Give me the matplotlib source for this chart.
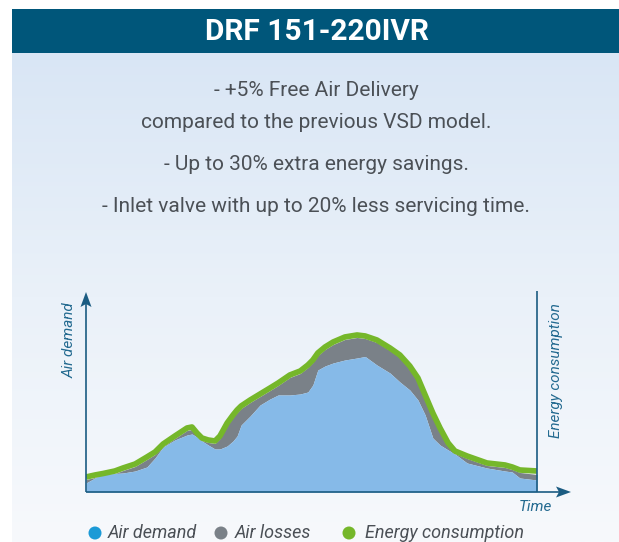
import numpy as np
import matplotlib
matplotlib.use("Agg")
import matplotlib.pyplot as plt
from matplotlib.colors import LinearSegmentedColormap
from matplotlib.patches import Polygon, Rectangle, Circle

# ---------------- data ----------------
title = "DRF 151-220IVR"
bullets = ["- +5% Free Air Delivery",
           "compared to the previous VSD model.",
           "- Up to 30% extra energy savings.",
           "- Inlet valve with up to 20% less servicing time."]
legend_labels = ["Air demand", "Air losses", "Energy consumption"]
y_label = "Air demand"
y2_label = "Energy consumption"
x_label = "Time"

time = [0, 2.0, 3.8, 6.4, 8.2, 10.9, 13.5, 15.3, 17.1, 19.7, 22.4, 23.5, 24.6, 25.7,
        27.1, 28.6, 29.7, 31.3, 32.6, 33.5, 34.4, 36.4, 38.6, 40.8, 42.6, 45.2, 47.5,
        49.2, 50.3, 51.4, 53.0, 54.8, 57.4, 60.1, 61.9, 64.5, 67.4, 69.6, 71.8, 73.6,
        75.2, 76.9, 78.5, 80.3, 81.8, 84.5, 88.9, 92.9, 94.5, 96.2, 100]
air_demand = [9, 14, 18, 18.5, 19, 21, 25, 34, 45, 52, 57, 58, 55, 51, 47, 43, 43, 46,
              51, 56, 67, 76, 87, 93, 97, 97, 98, 100, 107, 122, 126, 129, 132, 134,
              135.5, 127, 119, 110, 102, 92, 77, 54, 47, 42, 38, 29, 24, 21, 20, 14, 12]
air_losses = [12.5, 14.5, 18, 18.5, 21.5, 25.5, 32.5, 37.5, 45.5, 53.5, 61.5, 62.5, 56.5,
              51.5, 49.5, 48.5, 53.5, 66.5, 74.5, 79.5, 83.5, 89.5, 95.5, 101.5, 106.5,
              114.5, 118.5, 124.5, 129.5, 136.5, 142.5, 147.5, 152.5, 154.5, 153.5, 149.5,
              141.5, 134.5, 123.5, 111.5, 94.5, 76.5, 61.5, 46.5, 38.5, 33.5, 26.5, 24.5,
              22.5, 19.5, 17.5]
energy = [15, 17, 18.5, 21, 24, 28, 35, 40, 48, 56, 64, 65, 59, 54, 52, 51, 56, 69, 77,
          82, 86, 92, 98, 104, 109, 117, 121, 127, 132, 139, 145, 150, 155, 157, 156,
          152, 144, 137, 126, 114, 97, 79, 64, 49, 41, 36, 29, 27, 25, 22, 21]

# ---------------- style ----------------
W, H = 619, 542
DPI = 100
c_header = "#00567A"
c_axis = "#1B5C82"
c_label = "#236A90"
c_text = "#4B5056"
c_blue = "#86BAE8"
c_gray = "#7A8188"
c_green = "#75B72A"
c_dot_blue = "#1B9AD6"
FONT = ["Roboto", "DejaVu Sans"]

fig = plt.figure(figsize=(W / DPI, H / DPI), dpi=DPI)
fig.patch.set_facecolor("white")

# background axes in pixel coordinates
bg = fig.add_axes([0, 0, 1, 1], zorder=0)
bg.set_xlim(0, W)
bg.set_ylim(H, 0)
bg.axis("off")
grad = np.linspace(0, 1, 256).reshape(-1, 1)
cmap = LinearSegmentedColormap.from_list("bgc", ["#D9E6F5", "#EAF1F9", "#F7F9FC"])
bg.imshow(grad, cmap=cmap, extent=[12, W, H, 52], aspect="auto", zorder=0)
bg.add_patch(Rectangle((12, 9), W - 12, 44, facecolor=c_header, edgecolor="none", zorder=1))
bg.text(317, 32, title, color="white", fontsize=21.5, fontweight="bold",
        family=FONT, ha="center", va="center", zorder=2)
for yy, t in zip([90, 123, 164, 207], bullets):
    bg.text(316, yy, t, color=c_text, fontsize=15, family=FONT,
            ha="center", va="center", zorder=2)

# chart axes in data coordinates
x0, x1, ybase, ytop = 86, 537, 492, 292
ax = fig.add_axes([x0 / W, (H - ybase) / H, (x1 - x0) / W, (ybase - ytop) / H], zorder=1)
ax.patch.set_alpha(0)
ax.set_xlim(0, 100)
ax.set_ylim(0, 200)
ax.axis("off")
ax.fill_between(time, air_demand, air_losses, color=c_gray, lw=0)
ax.plot(time, energy, color=c_green, lw=4.1, solid_joinstyle="round",
        solid_capstyle="butt")
ax.fill_between(time, 0, air_demand, color=c_blue, lw=0)

# overlay axes (pixel coordinates)
ov = fig.add_axes([0, 0, 1, 1], zorder=2)
ov.patch.set_alpha(0)
ov.set_xlim(0, W)
ov.set_ylim(H, 0)
ov.axis("off")
ov.plot([86, 86], [492, 303], color=c_axis, lw=1.2, solid_capstyle="butt")
ov.plot([86, 560], [492, 492], color=c_axis, lw=1.2, solid_capstyle="butt")
ov.plot([537, 537], [291, 492], color=c_axis, lw=1.2, solid_capstyle="butt")
ov.add_patch(Polygon([(86, 292), (80.5, 307), (86, 304), (91.5, 307)], closed=True,
                     facecolor=c_axis, edgecolor="none"))
ov.add_patch(Polygon([(571, 492), (556, 486.5), (559, 492), (556, 497.5)], closed=True,
                     facecolor=c_axis, edgecolor="none"))
ov.text(70, 340, y_label, rotation=90, color=c_label, fontsize=11, style="italic",
        family=FONT, ha="center", va="center")
ov.text(556, 371, y2_label, rotation=90, color=c_label, fontsize=11, style="italic",
        family=FONT, ha="center", va="center")
ov.text(535, 507, x_label, color=c_label, fontsize=11, style="italic",
        family=FONT, ha="center", va="center")

# legend
dot_x = [95, 221, 349]
txt_x = [108, 235, 365]
dot_c = [c_dot_blue, c_gray, c_green]
for dx, tx, dc, lab in zip(dot_x, txt_x, dot_c, legend_labels):
    ov.add_patch(Circle((dx, 533), 6.5, facecolor=dc, edgecolor="none"))
    ov.text(tx, 533, lab, color=c_text, fontsize=13, style="italic", family=FONT,
            ha="left", va="center")

fig.savefig("out.png", dpi=DPI)
